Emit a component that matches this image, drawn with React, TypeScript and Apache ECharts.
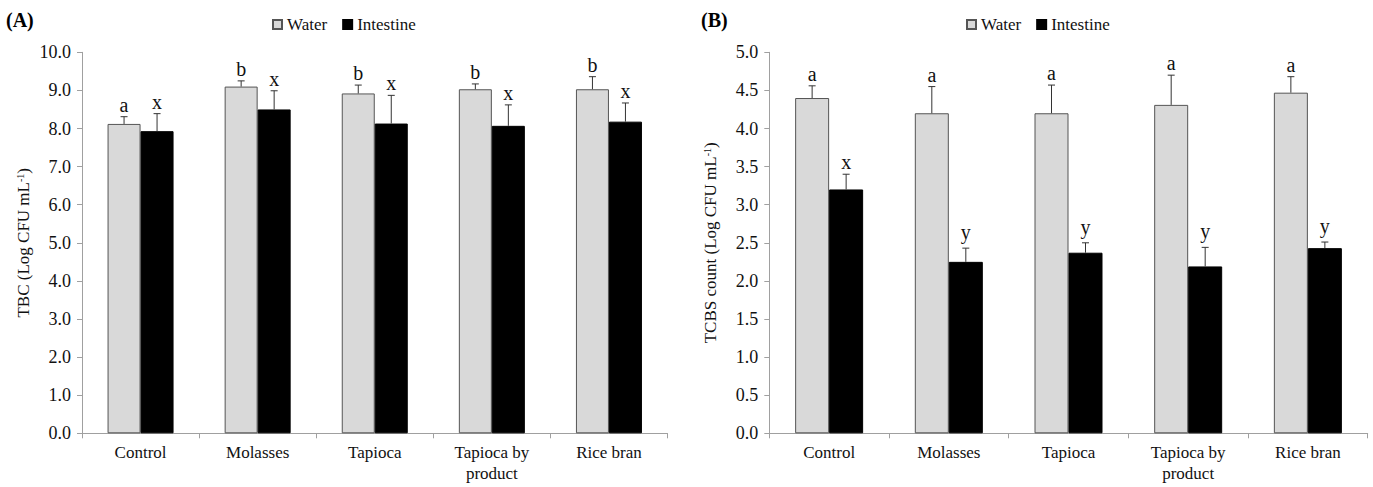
import React, { useEffect, useRef } from "react";
import * as echarts from "echarts";

const categories = ["Control", "Molasses", "Tapioca", "Tapioca by\nproduct", "Rice bran"];
const seriesNames = ["Water", "Intestine"];

// (A) TBC
const tbcWater = [8.12, 9.1, 8.92, 9.03, 9.03];
const tbcWaterSd = [0.19, 0.15, 0.22, 0.14, 0.33];
const tbcWaterLetters = ["a", "b", "b", "b", "b"];
const tbcIntestine = [7.93, 8.5, 8.13, 8.07, 8.18];
const tbcIntestineSd = [0.46, 0.49, 0.74, 0.55, 0.49];
const tbcIntestineLetters = ["x", "x", "x", "x", "x"];

// (B) TCBS
const tcbsWater = [4.4, 4.2, 4.2, 4.31, 4.47];
const tcbsWaterSd = [0.16, 0.35, 0.37, 0.39, 0.21];
const tcbsWaterLetters = ["a", "a", "a", "a", "a"];
const tcbsIntestine = [3.2, 2.25, 2.37, 2.19, 2.43];
const tcbsIntestineSd = [0.2, 0.18, 0.13, 0.25, 0.08];
const tcbsIntestineLetters = ["x", "y", "y", "y", "y"];

const FONT = '"Liberation Serif", "Times New Roman", serif';

function errSeries(gi: number, means: number[], sds: number[], letters: string[], side: number, barW: number) {
  return {
    type: "custom",
    xAxisIndex: gi,
    yAxisIndex: gi,
    z: 5,
    silent: true,
    data: means.map((m, i) => [i, m, m + sds[i]]),
    renderItem: (params: any, api: any) => {
      const i = api.value(0);
      const base = api.coord([i, api.value(1)]);
      const top = api.coord([i, api.value(2)]);
      const x = base[0] + (side * barW) / 2;
      const lift = letters[i] === "y" ? 6 : 2;
      return {
        type: "group",
        children: [
          { type: "line", shape: { x1: x, y1: base[1], x2: x, y2: top[1] }, style: { stroke: "#333", lineWidth: 1 } },
          { type: "line", shape: { x1: x - 3.5, y1: top[1], x2: x + 3.5, y2: top[1] }, style: { stroke: "#333", lineWidth: 1 } },
          {
            type: "text",
            x: x,
            y: top[1] - lift,
            style: {
              text: letters[i],
              fill: "#111",
              font: `20px ${FONT}`,
              align: "center",
              verticalAlign: "bottom",
            },
          },
        ],
      };
    },
  };
}

function barSeries(gi: number, name: string, data: number[], color: string, border: string, barW: number) {
  return {
    type: "bar",
    name,
    xAxisIndex: gi,
    yAxisIndex: gi,
    data,
    barWidth: barW,
    barGap: "0%",
    itemStyle: { color, borderColor: border, borderWidth: 1 },
  };
}

function xAxis(gi: number) {
  return {
    type: "category",
    gridIndex: gi,
    data: categories,
    axisLine: { lineStyle: { color: "#a0a0a0", width: 1 } },
    axisTick: { show: true, length: 5, lineStyle: { color: "#a0a0a0" } },
    axisLabel: { fontFamily: FONT, fontSize: 17, color: "#111", margin: 9, lineHeight: 21, interval: 0 },
  };
}

function yAxis(gi: number, max: number, interval: number, name: string) {
  return {
    type: "value",
    gridIndex: gi,
    min: 0,
    max,
    interval,
    name,
    nameLocation: "middle",
    nameGap: 50,
    nameTextStyle: {
      fontFamily: FONT,
      fontSize: 17,
      color: "#111",
      rich: { sup: { fontFamily: FONT, fontSize: 10, color: "#111", verticalAlign: "top", lineHeight: 17 } },
    },
    splitLine: { show: false },
    axisLine: { show: true, lineStyle: { color: "#a0a0a0", width: 1 } },
    axisTick: { show: true, length: 5, lineStyle: { color: "#a0a0a0" } },
    axisLabel: { fontFamily: FONT, fontSize: 18, color: "#111", margin: 11, formatter: (v: number) => v.toFixed(1) },
  };
}

function legend(left: number) {
  return {
    left,
    top: 16,
    padding: 0,
    data: seriesNames,
    icon: "rect",
    itemWidth: 9,
    itemHeight: 9,
    itemGap: 15,
    selectedMode: false,
    textStyle: { fontFamily: FONT, fontSize: 17, color: "#111", padding: [0, 0, 0, 0] },
  };
}

export default function App() {
  const ref = useRef<HTMLDivElement>(null);
  useEffect(() => {
    if (!ref.current) return;
    const chart = echarts.init(ref.current, null, { renderer: "svg" });
    const aW = 33;
    const bW = 34;
    chart.setOption({
      animation: false,
      backgroundColor: "#fff",
      textStyle: { fontFamily: FONT },
      title: [
        { text: "(A)", left: 6, top: 10, padding: 0, textStyle: { fontFamily: FONT, fontSize: 20, fontWeight: "bold", color: "#000" } },
        { text: "(B)", left: 701, top: 10, padding: 0, textStyle: { fontFamily: FONT, fontSize: 20, fontWeight: "bold", color: "#000" } },
      ],
      legend: [legend(272), legend(966)],
      grid: [
        { left: 82, right: 705.5, top: 52.3, bottom: 53.7 },
        { left: 769.3, right: 5.3, top: 52.3, bottom: 53.7 },
      ],
      xAxis: [xAxis(0), xAxis(1)],
      yAxis: [
        yAxis(0, 10, 1, "TBC (Log CFU mL{sup|-1})"),
        yAxis(1, 5, 0.5, "TCBS count (Log CFU mL{sup|-1})"),
      ],
      series: [
        barSeries(0, "Water", tbcWater, "#d9d9d9", "#555", aW),
        barSeries(0, "Intestine", tbcIntestine, "#000", "#000", aW),
        barSeries(1, "Water", tcbsWater, "#d9d9d9", "#555", bW),
        barSeries(1, "Intestine", tcbsIntestine, "#000", "#000", bW),
        errSeries(0, tbcWater, tbcWaterSd, tbcWaterLetters, -1, aW),
        errSeries(0, tbcIntestine, tbcIntestineSd, tbcIntestineLetters, 1, aW),
        errSeries(1, tcbsWater, tcbsWaterSd, tcbsWaterLetters, -1, bW),
        errSeries(1, tcbsIntestine, tcbsIntestineSd, tcbsIntestineLetters, 1, bW),
      ],
    });
    return () => chart.dispose();
  }, []);
  return (
    <div
      ref={ref}
      style={{ position: "fixed", left: 0, top: 0, width: 1373, height: 487, background: "#fff" }}
    />
  );
}
